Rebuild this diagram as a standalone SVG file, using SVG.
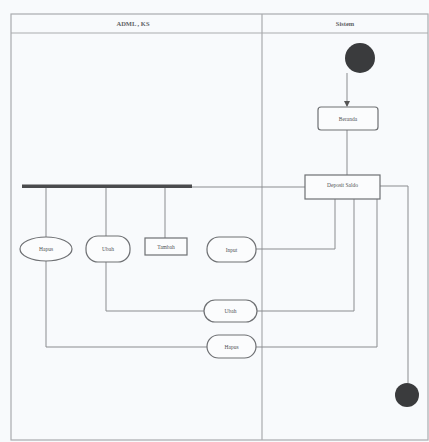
<svg xmlns="http://www.w3.org/2000/svg" width="429" height="442" viewBox="0 0 429 442">
<style>
.lane{fill:none;stroke:#a9abae;stroke-width:1.2}
.ln{fill:none;stroke:#8a8c8f;stroke-width:1}
.nd{fill:#fbfcfd;stroke:#6e7073;stroke-width:1.2}
.t{font-family:"Liberation Serif",serif;font-size:5.5px;fill:#505255;text-anchor:middle;dominant-baseline:central}
.h{font-family:"Liberation Serif",serif;font-size:6.5px;font-weight:bold;fill:#606265;text-anchor:middle;dominant-baseline:central}
</style>
<defs>
<marker id="arr" markerWidth="6" markerHeight="6" refX="5" refY="3" orient="auto" markerUnits="userSpaceOnUse">
<path d="M0,0 L6,3 L0,6 z" fill="#555"/>
</marker>
</defs>
<rect width="429" height="442" fill="#f8fafc"/>
<g id="lanes">
<rect class="lane" x="11" y="14" width="417" height="426"/>
<line class="lane" x1="11" y1="33" x2="428" y2="33"/>
<line class="lane" x1="262" y1="14" x2="262" y2="440"/>
<text class="h" x="133" y="23">ADML , KS</text>
<text class="h" x="345" y="23">Sistem</text>
</g>
<g id="connectors">
<line class="ln" x1="347" y1="73" x2="347" y2="106" marker-end="url(#arr)"/>
<line class="ln" x1="347" y1="130" x2="347" y2="175"/>
<line class="ln" x1="192" y1="187" x2="305" y2="187"/>
<line class="ln" x1="46" y1="187" x2="46" y2="237"/>
<line class="ln" x1="106" y1="187" x2="106" y2="236"/>
<line class="ln" x1="165" y1="187" x2="165" y2="238"/>
<polyline class="ln" points="256,249 335,249 335,199"/>
<polyline class="ln" points="106,262 106,311 204,311"/>
<polyline class="ln" points="257,311 354,311 354,199"/>
<polyline class="ln" points="46,261 46,347 207,347"/>
<polyline class="ln" points="256,347 377,347 377,199"/>
<polyline class="ln" points="380,186 408,186 408,383"/>
</g>
<g id="start"><circle cx="360" cy="58" r="15" fill="#3a3b3d"/></g>
<g id="beranda"><rect class="nd" x="318" y="107" width="60" height="23" rx="3"/><text class="t" x="348" y="118.5">Beranda</text></g>
<g id="deposit"><rect class="nd" x="305" y="175" width="75" height="24"/><text class="t" x="342.5" y="185">Deposit Saldo</text></g>
<g id="fork"><rect x="22" y="184.5" width="170" height="3.5" fill="#4a4b4d"/></g>
<g id="hapus1"><ellipse class="nd" cx="46" cy="249" rx="26" ry="12"/><text class="t" x="46" y="249">Hapus</text></g>
<g id="ubah1"><rect class="nd" x="86" y="236" width="44" height="26" rx="12"/><text class="t" x="108" y="249">Ubah</text></g>
<g id="tambah"><rect class="nd" x="145" y="238" width="42" height="17"/><text class="t" x="166" y="246.5">Tambah</text></g>
<g id="input"><rect class="nd" x="207" y="237" width="49" height="25" rx="12"/><text class="t" x="231.5" y="249.5">Input</text></g>
<g id="ubah2"><rect class="nd" x="204" y="300" width="53" height="22" rx="11"/><text class="t" x="230.5" y="311">Ubah</text></g>
<g id="hapus2"><rect class="nd" x="207" y="335" width="49" height="23" rx="11.5"/><text class="t" x="231.5" y="346.5">Hapus</text></g>
<g id="end"><circle cx="407" cy="395" r="12" fill="#3a3b3d"/></g>
</svg>
